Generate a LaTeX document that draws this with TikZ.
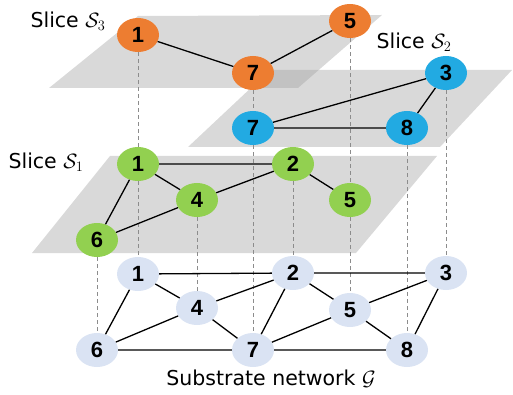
\documentclass[tikz,border=0pt]{standalone}
\usepackage{fontspec}
\setmainfont{DejaVu Sans}
\newfontfamily\numfont{Liberation Sans}
\usetikzlibrary{shapes.geometric}

\definecolor{sliceorange}{HTML}{ED7D31}
\definecolor{sliceblue}{HTML}{22AAE2}
\definecolor{slicegreen}{HTML}{92D050}
\definecolor{substrateblue}{HTML}{DAE3F3}

\begin{document}
\begin{tikzpicture}[x=1pt,y=-1pt,
    vnode/.style={ellipse,minimum width=42pt,minimum height=34pt,inner sep=0pt,
        font=\numfont\bfseries\fontsize{22}{22}\selectfont},
    plane/.style={fill=black!40,fill opacity=0.37},
    link/.style={line width=1.3pt},
    mapping/.style={black!45,line width=1pt,dash pattern=on 4pt off 3pt},
    caption/.style={inner sep=0pt,font=\fontsize{20.5}{20.5}\selectfont}]
    \useasboundingbox (0,0) rectangle (513,395);
    % column positions shared by all layers
    \pgfmathsetmacro{\xone}{138}
    \pgfmathsetmacro{\xtwo}{293}
    \pgfmathsetmacro{\xthree}{446}
    \pgfmathsetmacro{\xfour}{197}
    \pgfmathsetmacro{\xfive}{350}
    \pgfmathsetmacro{\xsix}{97}
    \pgfmathsetmacro{\xseven}{253}
    \pgfmathsetmacro{\xeight}{407}

    % slice planes
    \fill[plane] (110,156) -- (437,156) -- (356,253) -- (32,253) -- cycle;
    \fill[plane] (270,70) -- (512,70) -- (440,147) -- (188,147) -- cycle;
    \fill[plane] (138,16) -- (382,15) -- (298,88) -- (49,88) -- cycle;

    % substrate network
    \node[vnode,fill=substrateblue] (g1) at (\xone,274) {1};
    \node[vnode,fill=substrateblue] (g2) at (\xtwo,273) {2};
    \node[vnode,fill=substrateblue] (g3) at (\xthree,273) {3};
    \node[vnode,fill=substrateblue] (g4) at (\xfour,308) {4};
    \node[vnode,fill=substrateblue] (g5) at (\xfive,310) {5};
    \node[vnode,fill=substrateblue] (g6) at (\xsix,350) {6};
    \node[vnode,fill=substrateblue] (g7) at (\xseven,350) {7};
    \node[vnode,fill=substrateblue] (g8) at (\xeight,350) {8};

    % slice 1
    \node[vnode,fill=slicegreen] (a1) at (\xone,164) {1};
    \node[vnode,fill=slicegreen] (a2) at (\xtwo,164) {2};
    \node[vnode,fill=slicegreen] (a4) at (\xfour,200) {4};
    \node[vnode,fill=slicegreen] (a5) at (\xfive,200) {5};
    \node[vnode,fill=slicegreen] (a6) at (\xsix,240) {6};

    % slice 2
    \node[vnode,fill=sliceblue] (b3) at (\xthree,73) {3};
    \node[vnode,fill=sliceblue] (b7) at (\xseven,128) {7};
    \node[vnode,fill=sliceblue] (b8) at (\xeight,128) {8};

    % slice 3
    \node[vnode,fill=sliceorange] (c1) at (\xone,35) {1};
    \node[vnode,fill=sliceorange] (c5) at (\xfive,21) {5};
    \node[vnode,fill=sliceorange] (c7) at (\xseven,73) {7};

    % vertical mappings onto the substrate
    \draw[mapping] (c1) -- (a1);
    \draw[mapping] (a1) -- (g1);
    \draw[mapping] (c7) -- (b7);
    \draw[mapping] (b7) -- (g7);
    \draw[mapping] (c5) -- (a5);
    \draw[mapping] (a5) -- (g5);
    \draw[mapping] (b3) -- (g3);
    \draw[mapping] (b8) -- (g8);
    \draw[mapping] (a2) -- (g2);
    \draw[mapping] (a4) -- (g4);
    \draw[mapping] (a6) -- (g6);

    % links
    \draw[link] (g1) -- (g2) (g2) -- (g3) (g1) -- (g4) (g1) -- (g6)
        (g4) -- (g6) (g4) -- (g2) (g4) -- (g7) (g2) -- (g5) (g2) -- (g7)
        (g5) -- (g3) (g5) -- (g7) (g5) -- (g8) (g3) -- (g8)
        (g6) -- (g7) (g7) -- (g8);
    \draw[link] (a1) -- (a2) (a1) -- (a4) (a1) -- (a6) (a4) -- (a6)
        (a4) -- (a2) (a2) -- (a5);
    \draw[link] (b7) -- (b3) (b7) -- (b8) (b8) -- (b3);
    \draw[link] (c1) -- (c7) (c7) -- (c5);

    % labels
    \node[caption] (s3label) at (68,21) {Slice $\mathcal{S}_3$};
    \node[caption] (s2label) at (414,42) {Slice $\mathcal{S}_2$};
    \node[caption] (s1label) at (46,162) {Slice $\mathcal{S}_1$};
    \node[caption] (glabel) at (271,379) {Substrate network $\mathcal{G}$};
\end{tikzpicture}
\end{document}
